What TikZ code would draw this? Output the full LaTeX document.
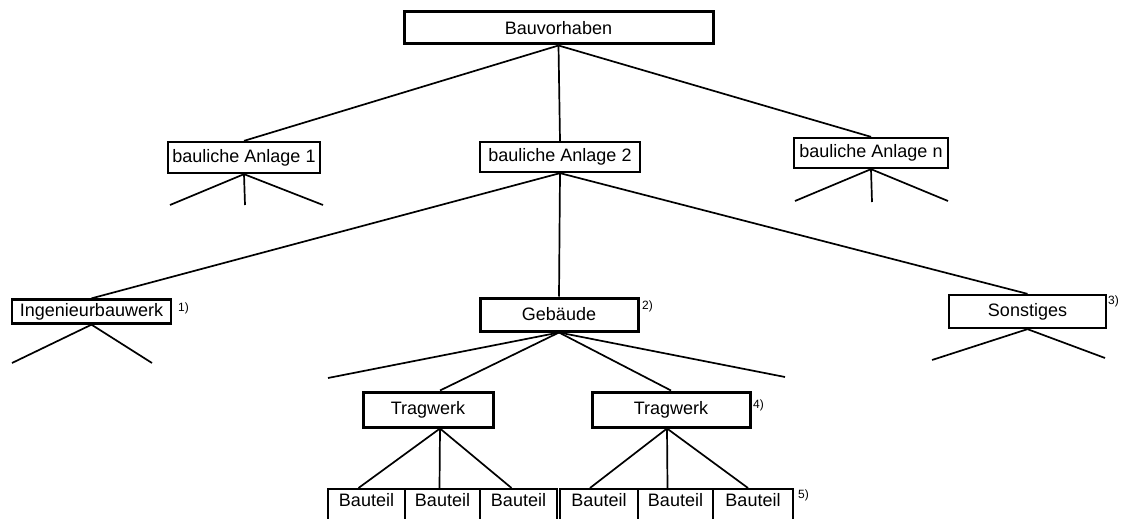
\documentclass[tikz,border=0pt]{standalone}
\usepackage{fontspec}
\setmainfont{Liberation Sans}
\begin{document}
\begin{tikzpicture}[x=1pt,y=-1pt,
  box/.style={draw, line width=2.3pt, inner sep=0pt, font=\fontsize{18}{18}\selectfont},
  thickbox/.style={box, line width=3pt},
  cell/.style={draw, line width=2.3pt, inner sep=0pt, anchor=north, text height=17pt, text depth=20pt, font=\fontsize{18}{18}\selectfont},
  conn/.style={line width=1.7pt},
  fn/.style={font=\fontsize{12}{12}\selectfont, inner sep=0pt, anchor=west}]
\useasboundingbox (0,0) rectangle (1121,519);
\fill[white] (0,0) rectangle (1121,519);
% boxes
\node[thickbox, minimum width=309pt, minimum height=32pt] (bv) at (558.5,28) {Bauvorhaben};
\node[box, minimum width=152pt, minimum height=31pt] (ba1) at (244,157.5) {bauliche Anlage 1};
\node[box, minimum width=160pt, minimum height=30pt] (ba2) at (560,157) {bauliche Anlage 2};
\node[box, minimum width=154pt, minimum height=30pt] (ban) at (871,153) {bauliche Anlage n};
\node[box, minimum width=159pt, minimum height=24pt] (ing) at (91.5,311.5) {Ingenieurbauwerk};
\node[thickbox, minimum width=158pt, minimum height=33pt] (geb) at (559,314.5) {Gebäude};
\node[box, minimum width=157pt, minimum height=33pt] (son) at (1027.5,311.5) {Sonstiges};
\node[thickbox, minimum width=130pt, minimum height=35pt] (t1) at (428,409.5) {Tragwerk};
\node[thickbox, minimum width=158pt, minimum height=35pt] (t2) at (671,409.5) {Tragwerk};
\node[cell, minimum width=77pt] (b1) at (366.5,488) {Bauteil};
\node[cell, minimum width=75pt] (b2) at (442.5,488) {Bauteil};
\node[cell, minimum width=77pt] (b3) at (518.5,488) {Bauteil};
\node[cell, minimum width=78pt] (b4) at (599,488) {Bauteil};
\node[cell, minimum width=75pt] (b5) at (675.5,488) {Bauteil};
\node[cell, minimum width=80pt] (b6) at (753,488) {Bauteil};
% footnotes
\node[fn] (f1) at (178,308) {1)};
\node[fn] (f2) at (642,306) {2)};
\node[fn] (f3) at (1108,301) {3)};
\node[fn] (f4) at (753,405) {4)};
\node[fn] (f5) at (798,495) {5)};
% free ends
\coordinate (a1l) at (170,205);
\coordinate (a1m) at (245,205);
\coordinate (a1r) at (323,205);
\coordinate (anl) at (795,201);
\coordinate (anm) at (872,202);
\coordinate (anr) at (948,201);
\coordinate (il) at (12,363);
\coordinate (ir) at (152,363);
\coordinate (sl) at (932,360);
\coordinate (sr) at (1105,358);
\coordinate (gl) at (328,378);
\coordinate (gr) at (785,377);
% connectors
\draw[conn] (bv.south) -- (ba1.north);
\draw[conn] (bv.south) -- (ba2.north);
\draw[conn] (bv.south) -- (ban.north);
\draw[conn] (ba1.south) -- (a1l);
\draw[conn] (ba1.south) -- (a1m);
\draw[conn] (ba1.south) -- (a1r);
\draw[conn] (ban.south) -- (anl);
\draw[conn] (ban.south) -- (anm);
\draw[conn] (ban.south) -- (anr);
\draw[conn] (ba2.south) -- (ing.north);
\draw[conn] (ba2.south) -- (geb.north);
\draw[conn] (ba2.south) -- (son.north);
\draw[conn] (ing.south) -- (il);
\draw[conn] (ing.south) -- (ir);
\draw[conn] (son.south) -- (sl);
\draw[conn] (son.south) -- (sr);
\draw[conn] (geb.south) -- (gl);
\draw[conn] (geb.south) -- (gr);
\draw[conn] (geb.south) -- ([xshift=12pt]t1.north);
\draw[conn] (geb.south) -- (t2.north);
\draw[conn] ([xshift=12pt]t1.south) -- ([xshift=-8pt]b1.north);
\draw[conn] ([xshift=12pt]t1.south) -- ([xshift=-3pt]b2.north);
\draw[conn] ([xshift=12pt]t1.south) -- ([xshift=-7pt]b3.north);
\draw[conn] ([xshift=-4pt]t2.south) -- ([xshift=-9pt]b4.north);
\draw[conn] ([xshift=-4pt]t2.south) -- ([xshift=-8pt]b5.north);
\draw[conn] ([xshift=-4pt]t2.south) -- ([xshift=-5pt]b6.north);
\end{tikzpicture}
\end{document}
